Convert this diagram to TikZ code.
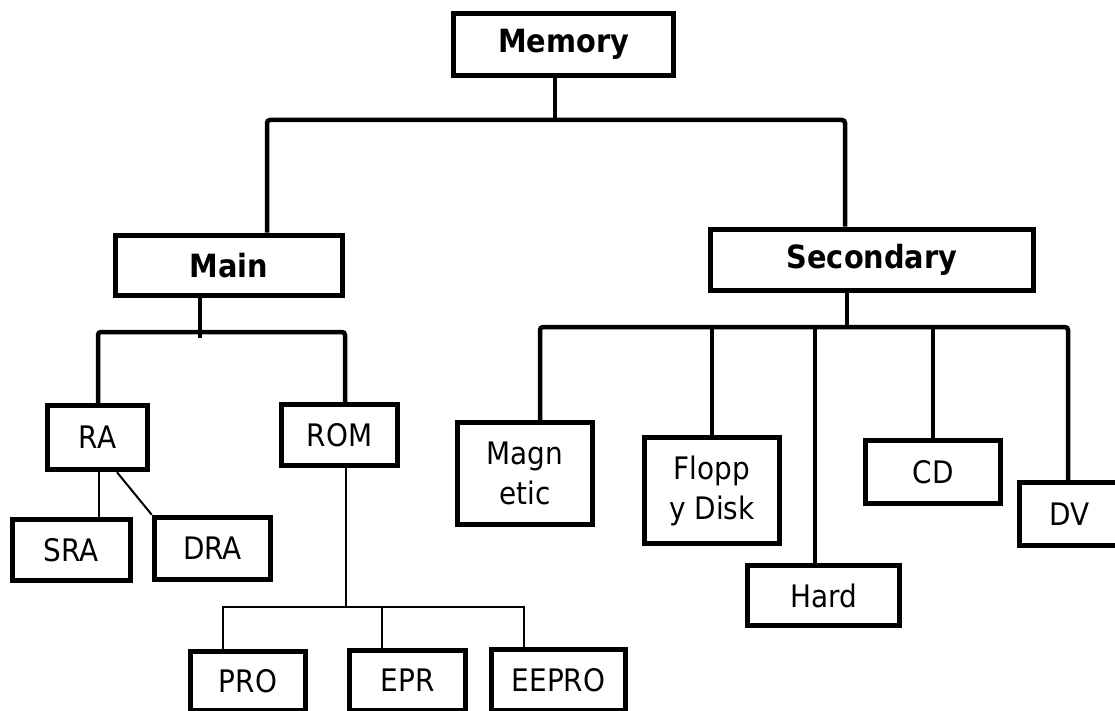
\documentclass[tikz,border=0pt]{standalone}
\usepackage{fontspec}
\setmainfont{DejaVu Sans}[FakeStretch=0.9]
\begin{document}
\begin{tikzpicture}[x=1pt,y=-1pt,
  box/.style={draw, line width=5.5pt, fill=white, inner sep=0pt, align=center,
    font=\fontsize{31}{40}\selectfont},
  bbox/.style={box, font=\fontsize{32}{36}\selectfont\bfseries},
  bus/.style={line width=4.5pt},
  thinline/.style={line width=2pt}]
\useasboundingbox (0,0) rectangle (1115,711);
\clip (0,0) rectangle (1115,711);
% boxes
\node[bbox, minimum width=220pt, minimum height=62pt] (mem) at (563.5,44.5) {Memory};
\node[bbox, minimum width=227pt, minimum height=60pt] (main) at (229,265.5) {Main};
\node[bbox, minimum width=323pt, minimum height=61pt] (sec) at (872,260) {Secondary};
\node[box, minimum width=100pt, minimum height=64pt] (ra) at (97.5,437.5) {RA};
\node[box, minimum width=116pt, minimum height=61pt] (rom) at (339.5,435) {ROM};
\node[box, minimum width=118pt, minimum height=61pt] (sra) at (71.5,550) {SRA};
\node[box, minimum width=116pt, minimum height=62pt] (dra) at (212.5,548.5) {DRA};
\node[box, minimum width=115pt, minimum height=59pt] (pro) at (248,681) {PRO};
\node[box, minimum width=116pt, minimum height=60pt] (epr) at (407.5,680.5) {EPR};
\node[box, minimum width=134pt, minimum height=61pt] (eepro) at (558.5,680) {EEPRO};
\node[box, minimum width=135pt, minimum height=102pt] (mag) at (525,473.5) {Magn\\etic};
\node[box, minimum width=135pt, minimum height=106pt] (flop) at (712,490.5) {Flopp\\y Disk};
\node[box, minimum width=152pt, minimum height=60pt] (hard) at (823.5,595.5) {Hard};
\node[box, minimum width=135pt, minimum height=63pt] (cd) at (933,472) {CD};
\node[box, minimum width=101pt, minimum height=63pt] (dv) at (1070,514) {DV};
% junctions
\coordinate (j0) at (555,120);
\coordinate (jL) at (267,120);
\coordinate (jR) at (845,120);
\coordinate (m0) at (200,332);
\coordinate (m1) at (200,338);
\coordinate (mL) at (98,332);
\coordinate (mR) at (345,332);
\coordinate (s0) at (847,327);
\coordinate (sL) at (540,327);
\coordinate (sH) at (815,327);
\coordinate (sR) at (1068,327);
\coordinate (ra1) at (99,0);
\coordinate (ra2) at (117,0);
\coordinate (r0) at (346,607);
\coordinate (rL) at (223,607);
\coordinate (rM) at (382,607);
\coordinate (rR) at (524,607);
% connectors
\draw[bus] (mem.south -| j0) -- (j0);
\draw[bus, rounded corners=3pt] (main.north -| jL) -- (jL) -- (jR) -- (sec.north -| jR);
\draw[bus] (main.south -| m0) -- (m1);
\draw[bus, rounded corners=3pt] (ra.north -| mL) -- (mL) -- (mR) -- (rom.north -| mR);
\draw[bus] (sec.south -| s0) -- (s0);
\draw[bus, rounded corners=3pt] (mag.north -| sL) -- (sL) -- (sR) -- (dv.north -| sR);
\draw[bus] (flop.north) -- (flop.north |- sL);
\draw[bus] (hard.north -| sH) -- (sH);
\draw[bus] (cd.north) -- (cd.north |- sL);
\draw[thinline] (ra.south -| ra1) -- (sra.north -| ra1);
\draw[thinline] (ra.south -| ra2) -- (dra.north west);
\draw[thinline] (rom.south -| r0) -- (r0);
\draw[thinline] (pro.north -| rL) -- (rL) -- (rR) -- (eepro.north -| rR);
\draw[thinline] (epr.north -| rM) -- (rM);
\end{tikzpicture}
\end{document}
